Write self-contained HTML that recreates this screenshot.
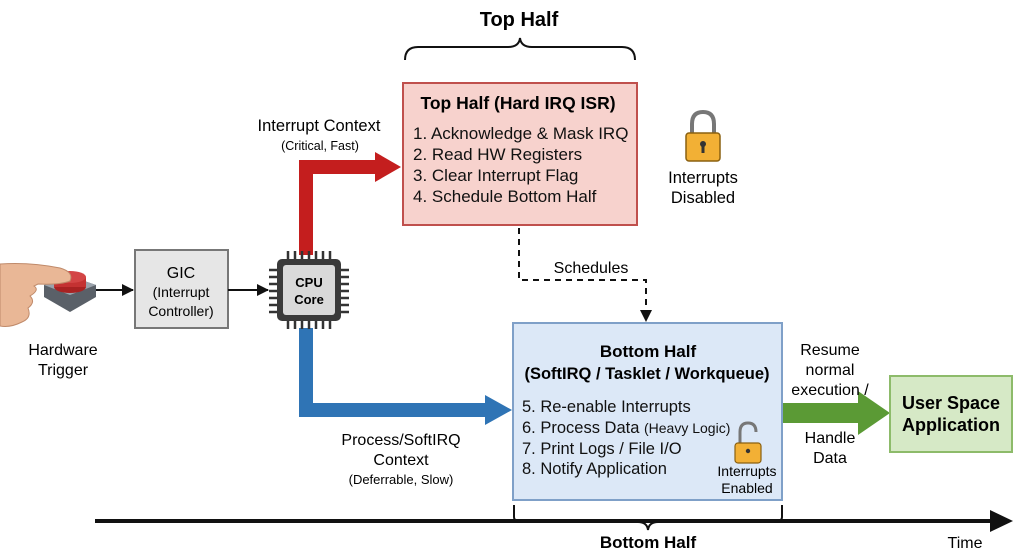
<!DOCTYPE html>
<html><head><meta charset="utf-8"><style>
body{margin:0;background:#fff}
svg{display:block;font-family:"Liberation Sans",Arial,sans-serif}
</style></head><body>
<svg width="1024" height="559" viewBox="0 0 1024 559">
<defs>
<marker id="ah" markerWidth="12" markerHeight="12" refX="11" refY="6" orient="auto" markerUnits="userSpaceOnUse"><path d="M0,0 L12,6 L0,12 Z" fill="#111"/></marker>
</defs>
<text x="519" y="26" font-size="20" font-weight="bold" text-anchor="middle">Top Half</text>
<path d="M405,60 Q405,47 418,47 L508,47 Q519,47 520,38 Q521,47 532,47 L622,47 Q635,47 635,60" fill="none" stroke="#111" stroke-width="2"/>
<rect x="403" y="83" width="234" height="142" fill="#f7d2cd" stroke="#c0504d" stroke-width="2"/>
<text x="518" y="109" font-size="17.5" font-weight="bold" text-anchor="middle">Top Half (Hard IRQ ISR)</text>
<g font-size="17" fill="#111">
<text x="413" y="139">1. Acknowledge &amp; Mask IRQ</text>
<text x="413" y="160">2. Read HW Registers</text>
<text x="413" y="181">3. Clear Interrupt Flag</text>
<text x="413" y="202">4. Schedule Bottom Half</text>
</g>
<path d="M692,134 V124 Q692,112 703,112 Q714,112 714,124 V134" fill="none" stroke="#777" stroke-width="4"/>
<rect x="686" y="133" width="34" height="28" rx="3" fill="#f2b035" stroke="#8a6010" stroke-width="1.5"/>
<circle cx="703" cy="144" r="3" fill="#333"/><rect x="701.5" y="145" width="3" height="8" fill="#333"/>
<text x="703" y="183" font-size="16.5" text-anchor="middle">Interrupts</text>
<text x="703" y="203" font-size="16.5" text-anchor="middle">Disabled</text>
<path d="M519,228 V280 H646 V312" fill="none" stroke="#111" stroke-width="2" stroke-dasharray="6,5"/>
<path d="M640,310 L646,322 L652,310 Z" fill="#111"/>
<text x="591" y="273" font-size="16" text-anchor="middle">Schedules</text>
<path d="M299,255 V160 H375 V152 L401,167 L375,182 V174 H313 V255 Z" fill="#c41e1e"/>
<text x="319" y="131" font-size="16.5" text-anchor="middle">Interrupt Context</text>
<text x="320" y="150" font-size="12.5" text-anchor="middle">(Critical, Fast)</text>
<path d="M299,328 V417 H485 V425 L512,410 L485,395 V403 H313 V328 Z" fill="#2f74b5"/>
<text x="401" y="445" font-size="16" text-anchor="middle">Process/SoftIRQ</text>
<text x="401" y="465" font-size="16" text-anchor="middle">Context</text>
<text x="401" y="484" font-size="13" text-anchor="middle">(Deferrable, Slow)</text>
<rect x="513" y="323" width="269" height="177" fill="#dce8f7" stroke="#7fa0c8" stroke-width="2"/>
<text x="648" y="357" font-size="17" font-weight="bold" text-anchor="middle">Bottom Half</text>
<text x="647" y="379" font-size="16.5" font-weight="bold" text-anchor="middle">(SoftIRQ / Tasklet / Workqueue)</text>
<g font-size="16.5" fill="#111">
<text x="522" y="412">5. Re-enable Interrupts</text>
<text x="522" y="433">6. Process Data <tspan font-size="14">(Heavy Logic)</tspan></text>
<text x="522" y="454">7. Print Logs / File I/O</text>
<text x="522" y="474">8. Notify Application</text>
</g>
<path d="M740,444 V432 Q740,423 748,423 Q756,423 756,432" fill="none" stroke="#777" stroke-width="3"/>
<rect x="735" y="443" width="26" height="20" rx="3" fill="#f2b035" stroke="#8a6010" stroke-width="1.2"/>
<circle cx="748" cy="451" r="2.2" fill="#333"/>
<text x="747" y="476" font-size="14" text-anchor="middle">Interrupts</text>
<text x="747" y="493" font-size="14" text-anchor="middle">Enabled</text>
<path d="M783,403 H858 V391 L890,413 L858,435 V423 H783 Z" fill="#5b9a35"/>
<g font-size="16" text-anchor="middle">
<text x="830" y="355">Resume</text><text x="830" y="375">normal</text><text x="830" y="395">execution /</text>
<text x="830" y="443">Handle</text><text x="830" y="463">Data</text>
</g>
<rect x="890" y="376" width="122" height="76" fill="#d6e9c6" stroke="#8dbb6a" stroke-width="2"/>
<text x="951" y="409" font-size="18" font-weight="bold" text-anchor="middle">User Space</text>
<text x="951" y="431" font-size="18" font-weight="bold" text-anchor="middle">Application</text>
<line x1="95" y1="521" x2="995" y2="521" stroke="#111" stroke-width="4"/>
<path d="M990,510 L1013,521 L990,532 Z" fill="#111"/>
<text x="965" y="548" font-size="16" text-anchor="middle">Time</text>
<path d="M514,505 V517 Q514,522 524,522 L638,522 Q647,522 648,530 Q649,522 658,522 L772,522 Q782,522 782,517 V505" fill="none" stroke="#111" stroke-width="2"/>
<text x="648" y="548" font-size="17" font-weight="bold" text-anchor="middle">Bottom Half</text>
<rect x="135" y="250" width="93" height="78" fill="#e6e6e6" stroke="#777" stroke-width="2"/>
<text x="181" y="278" font-size="16" text-anchor="middle">GIC</text>
<text x="181" y="297" font-size="14" text-anchor="middle">(Interrupt</text>
<text x="181" y="316" font-size="14" text-anchor="middle">Controller)</text>
<line x1="95" y1="290" x2="133" y2="290" stroke="#111" stroke-width="2" marker-end="url(#ah)"/>
<line x1="228" y1="290" x2="268" y2="290" stroke="#111" stroke-width="2" marker-end="url(#ah)"/>
<g stroke="#333" stroke-width="2.5">
<path d="M288,251v8M295,251v8M302,251v8M309,251v8M316,251v8M323,251v8M330,251v8"/>
<path d="M288,321v8M295,321v8M302,321v8M309,321v8M316,321v8M323,321v8M330,321v8"/>
<path d="M269,270h8M269,277h8M269,284h8M269,291h8M269,298h8M269,305h8M269,312h8"/>
<path d="M341,270h8M341,277h8M341,284h8M341,291h8M341,298h8M341,305h8M341,312h8"/>
</g>
<rect x="277" y="259" width="64" height="62" rx="5" fill="#3a3a3a"/>
<rect x="283" y="265" width="52" height="50" rx="3" fill="#d9d9d9"/>
<text x="309" y="287" font-size="13" font-weight="bold" text-anchor="middle">CPU</text>
<text x="309" y="304" font-size="13" font-weight="bold" text-anchor="middle">Core</text>
<path d="M44,285 L70,276 L96,285 L96,297 L70,312 L44,297 Z" fill="#5a6068"/>
<path d="M44,285 L70,276 L96,285 L70,295 Z" fill="#9aa2ab"/>
<ellipse cx="70" cy="287" rx="16" ry="6" fill="#a82222"/>
<rect x="54" y="277" width="32" height="10" fill="#c43232"/>
<ellipse cx="70" cy="277" rx="16" ry="6" fill="#d34545"/>
<path d="M0,264 Q30,262 60,268 Q74,272 70,281 Q60,285 38,284 L34,286 Q40,290 30,296 Q36,302 28,308 Q32,318 22,322 Q10,328 0,326 Z" fill="#e9b796" stroke="#c08a6a" stroke-width="1"/>
<text x="63" y="355" font-size="16" text-anchor="middle">Hardware</text>
<text x="63" y="375" font-size="16" text-anchor="middle">Trigger</text>
</svg>
</body></html>
